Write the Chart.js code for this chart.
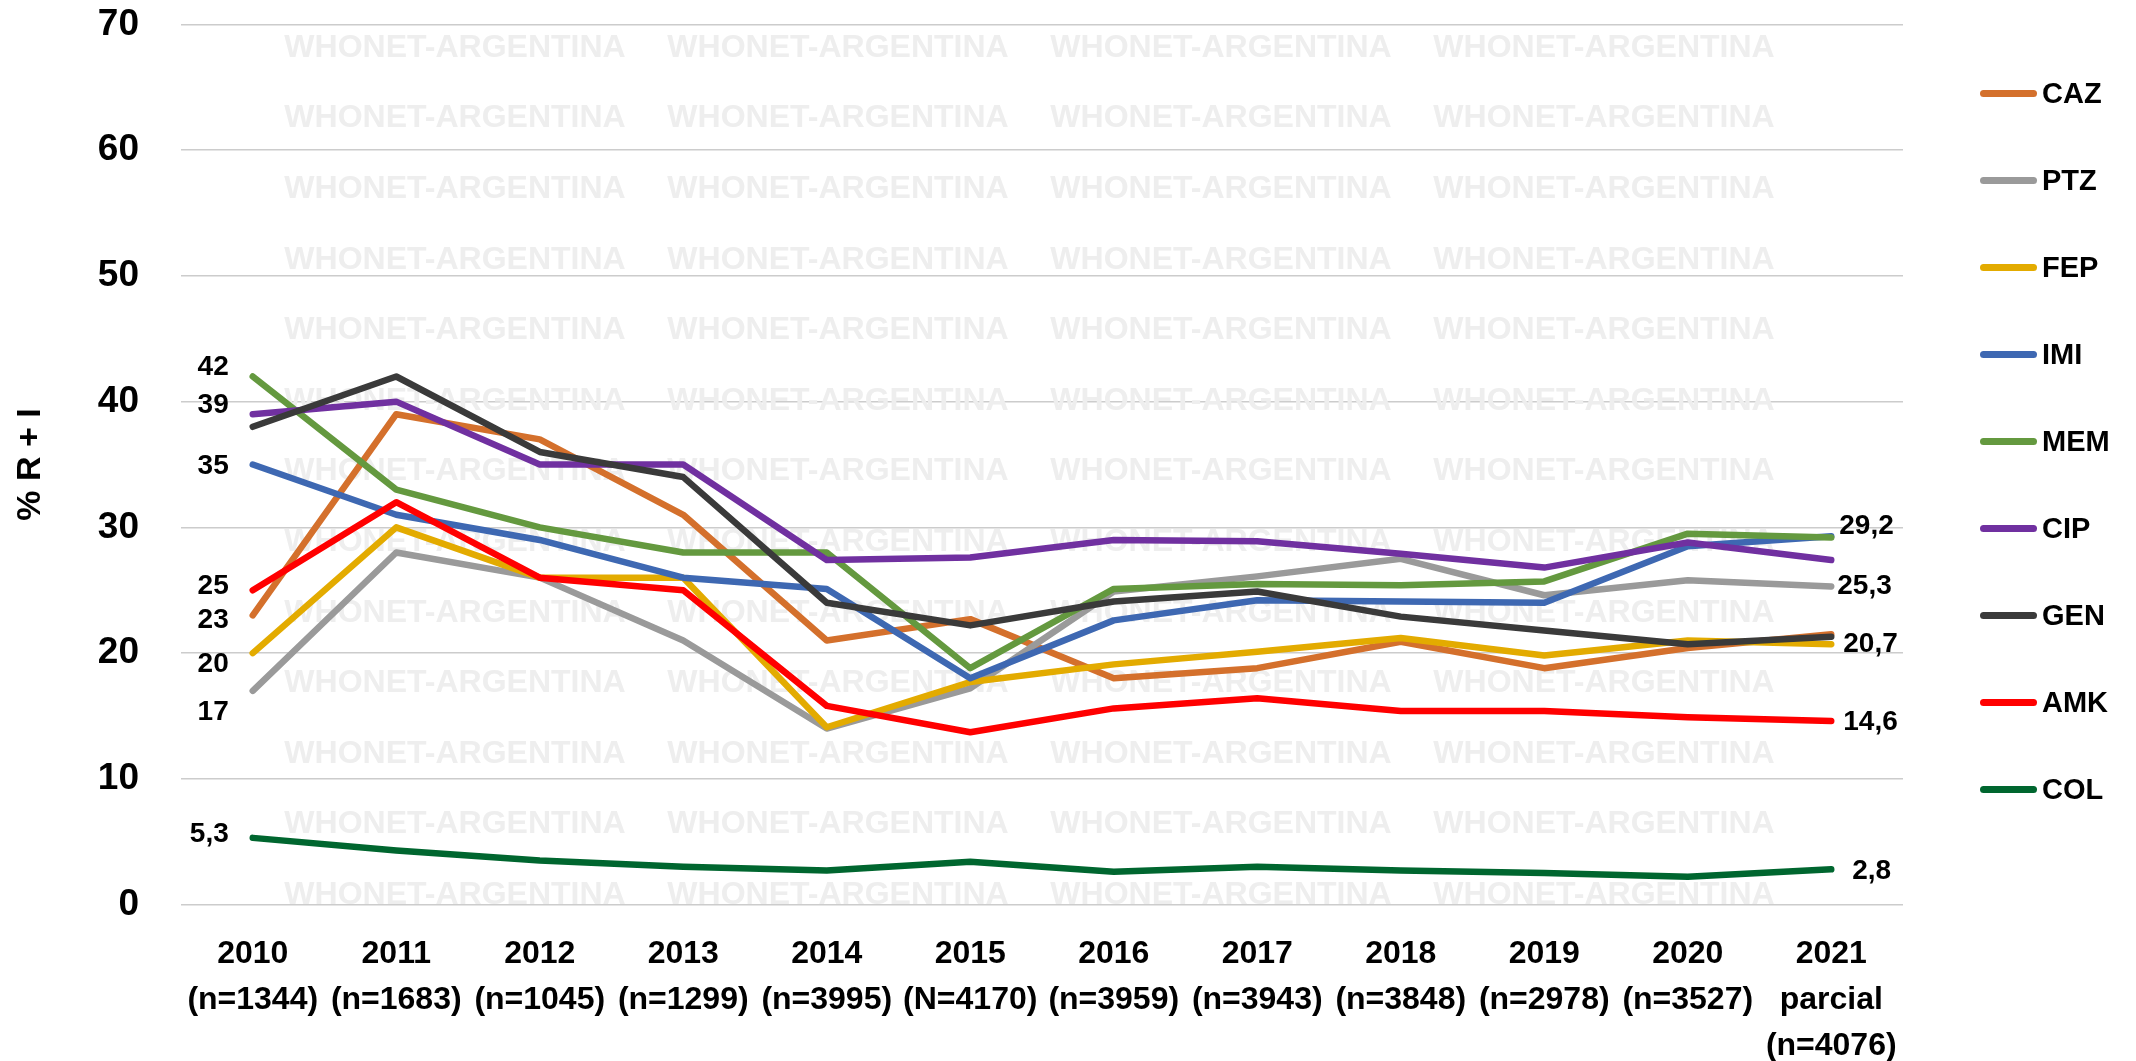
<!DOCTYPE html>
<html>
<head>
<meta charset="utf-8">
<script src="https://cdn.jsdelivr.net/npm/chart.js@4.4.1/dist/chart.umd.min.js"></script>
<style>
  body { margin: 0; background: #fff; }
  #wrap { position: relative; width: 2136px; height: 1061px; }
  #legend {
    position: absolute; left: 1980px; top: 79px;
    display: flex; flex-direction: column; gap: 59px;
    font: bold 29px "Liberation Sans", Arial, sans-serif; color: #000;
  }
  .item { display: flex; align-items: center; height: 28px; }
  .swatch { width: 57px; height: 7px; border-radius: 4px; margin-right: 5px; }
</style>
</head>
<body>
<div id="wrap">
  <canvas id="chart" width="2136" height="1061"></canvas>
  <div id="legend"></div>
</div>
<script>
const xLabels = [
  ["2010", "(n=1344)"], ["2011", "(n=1683)"], ["2012", "(n=1045)"], ["2013", "(n=1299)"],
  ["2014", "(n=3995)"], ["2015", "(N=4170)"], ["2016", "(n=3959)"], ["2017", "(n=3943)"],
  ["2018", "(n=3848)"], ["2019", "(n=2978)"], ["2020", "(n=3527)"], ["2021", "parcial", "(n=4076)"],
];

const names = ["CAZ", "PTZ", "FEP", "IMI", "MEM", "CIP", "GEN", "AMK", "COL"];
const colors = ["#D4702C", "#9A9A9A", "#E3AB00", "#3E68B2", "#64993F", "#7030A0", "#3A3A3A", "#FF0000", "#00662F"];

const caz = [23, 39, 37, 31, 21, 22.7, 18, 18.8, 20.9, 18.8, 20.4, 21.5];
const ptz = [17, 28, 26, 21, 14, 17.2, 24.9, 26.1, 27.5, 24.6, 25.8, 25.3];
const fep = [20, 30, 26, 26, 14.1, 17.7, 19.1, 20.1, 21.2, 19.8, 21.0, 20.7];
const imi = [35, 31, 29, 26, 25.1, 18, 22.6, 24.2, 24.1, 24.0, 28.5, 29.3];
const mem = [42, 33, 30, 28, 28, 18.8, 25.1, 25.5, 25.4, 25.7, 29.5, 29.2];
const cip = [39, 40, 35, 35, 27.4, 27.6, 29, 28.9, 27.9, 26.8, 28.8, 27.4];
const gen = [38, 42, 36, 34, 24, 22.2, 24.1, 24.9, 22.9, 21.8, 20.7, 21.3];
const amk = [25, 32, 26, 25, 15.8, 13.7, 15.6, 16.4, 15.4, 15.4, 14.9, 14.6];
const col = [5.3, 4.3, 3.5, 3.0, 2.7, 3.4, 2.6, 3.0, 2.7, 2.5, 2.2, 2.8];
const series = [caz, ptz, fep, imi, mem, cip, gen, amk, col];

// which series get a value label at the first / last point, with a small nudge (px)
const firstLabels = [["MEM", -9], ["CIP", -9], ["IMI", 2], ["AMK", -4], ["CAZ", 5], ["FEP", 11], ["PTZ", 21], ["COL", -4]];
const lastLabels = [["MEM", -11, 8], ["PTZ", 0, 6], ["FEP", 0, 12], ["AMK", 1, 12], ["COL", 2, 21]];

const FONT = '"Liberation Sans", Arial, sans-serif';
Chart.defaults.font.family = FONT;
Chart.defaults.color = "#000";
Chart.defaults.animation = false;

const fmt = (v) => String(v).replace(".", ",");

const watermark = {
  id: "watermark",
  beforeDatasetsDraw(chart) {
    const ctx = chart.ctx;
    ctx.save();
    ctx.font = `bold 32px ${FONT}`;
    ctx.fillStyle = "#eeeeee";
    ctx.textAlign = "center";
    ctx.textBaseline = "middle";
    for (let r = 0; r < 13; r++) {
      for (let c = 0; c < 4; c++) {
        ctx.fillText("WHONET-ARGENTINA", 455 + c * 383, 48 + r * 70.6);
      }
    }
    ctx.restore();
  },
};

const valueLabels = {
  id: "valueLabels",
  afterDatasetsDraw(chart) {
    const ctx = chart.ctx;
    ctx.save();
    ctx.font = `bold 28px ${FONT}`;
    ctx.fillStyle = "#000";
    ctx.textBaseline = "middle";
    ctx.textAlign = "right";
    for (const [name, dy] of firstLabels) {
      const i = names.indexOf(name);
      const p = chart.getDatasetMeta(i).data[0];
      ctx.fillText(fmt(series[i][0]), p.x - 24, p.y + dy);
    }
    ctx.textAlign = "left";
    for (const [name, dy, dx] of lastLabels) {
      const i = names.indexOf(name);
      const n = series[i].length - 1;
      const p = chart.getDatasetMeta(i).data[n];
      ctx.fillText(fmt(series[i][n]), p.x + dx, p.y + dy);
    }
    ctx.restore();
  },
};

new Chart(document.getElementById("chart"), {
  type: "line",
  data: {
    labels: xLabels,
    datasets: names.map((n, i) => ({
      label: n,
      data: series[i],
      borderColor: colors[i],
      backgroundColor: colors[i],
      borderWidth: 6.5,
      borderJoinStyle: "round",
      borderCapStyle: "round",
      pointRadius: 0,
      tension: 0,
      order: names.length - i,
    })),
  },
  options: {
    responsive: false,
    layout: { padding: { top: 24.5, right: 233, left: 0, bottom: 0 } },
    plugins: { legend: { display: false }, tooltip: { enabled: false } },
    scales: {
      x: {
        offset: true,
        grid: { display: false, drawTicks: false },
        border: { display: false },
        ticks: {
          autoSkip: false, maxRotation: 0, padding: 26.5,
          font: { size: 32, weight: "bold", lineHeight: 1.44 },
        },
        afterFit: (s) => { s.height = 156.5; },
      },
      y: {
        min: 0, max: 70,
        grid: { color: "#cccccc", lineWidth: 1.5, drawTicks: false },
        border: { display: false },
        ticks: { stepSize: 10, padding: 42, font: { size: 37, weight: "bold" } },
        title: {
          display: true, text: "% R + I",
          font: { size: 34, weight: "bold" },
          padding: { top: 10, bottom: 0 },
        },
        afterFit: (s) => { s.width = 181; s.paddingTop = 0; s.paddingBottom = 0; },
      },
    },
  },
  plugins: [watermark, valueLabels],
});

document.getElementById("legend").innerHTML = names
  .map((n, i) => `<div class="item"><span class="swatch" style="background:${colors[i]}"></span>${n}</div>`)
  .join("");
</script>
</body>
</html>
